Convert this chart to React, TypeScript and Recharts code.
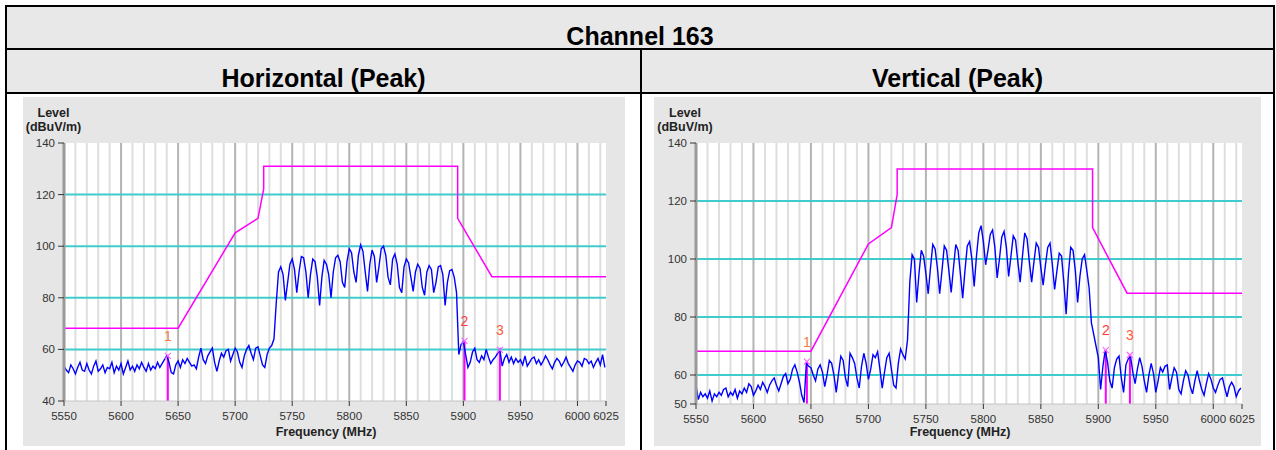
import React from "react";
import {
  LineChart,
  Line,
  XAxis,
  YAxis,
  CartesianGrid,
  ReferenceLine,
  ReferenceDot,
} from "recharts";

const FONT = "'Liberation Sans', Arial, Helvetica, sans-serif";

// sweep: one reading every 2 MHz from 5550 MHz
const START_MHZ = 5550;
const STEP_MHZ = 2;

const FREQ_TICKS = [5550, 5600, 5650, 5700, 5750, 5800, 5850, 5900, 5950, 6000, 6025];
const H_LEVEL_TICKS = [40, 60, 80, 100, 120, 140];
const V_LEVEL_TICKS = [50, 60, 80, 100, 120, 140];
const CYAN_LEVELS = [60, 80, 100, 120];
const GRID_MHZ = Array.from({ length: 47 }, (_, i) => 5560 + i * 10);

// emission mask
const LIMIT_MHZ = [5550, 5650, 5700, 5720, 5725, 5725, 5895, 5895, 5925, 6025];
const LIMIT_LEVEL = [68.2, 68.2, 105.2, 110.8, 122.2, 131, 131, 110.8, 88.2, 88.2];

const H_MARKER_MHZ = [5641, 5901, 5932];
const H_MARKER_LEVEL = [57.5, 63.3, 59.8];
const V_MARKER_MHZ = [5646.5, 5906.5, 5927.5];
const V_MARKER_LEVEL = [64.6, 68.6, 66.9];
const MARKER_COLORS = ["#f0803c", "#ff3c3c", "#ff5a3c"];

// Horizontal (Peak) trace, dBuV/m
const H_LEVEL = [
  53.5, 52.0, 51.0, 54.0, 52.5, 50.5, 53.0, 55.0, 52.0, 51.5,
  54.5, 52.0, 50.5, 53.5, 55.5, 51.5, 52.5, 54.0, 51.0, 53.0,
  52.5, 55.0, 51.0, 53.5, 52.0, 54.5, 50.5, 53.0, 55.5, 52.0,
  53.5, 51.5, 54.0, 52.5, 55.0, 53.0, 51.5, 54.5, 52.0, 53.5,
  52.5, 55.0, 53.0, 54.5, 56.0, 57.5, 55.0, 51.0, 50.5, 54.0,
  55.5, 53.0, 56.0, 54.5, 56.5, 55.0, 53.5, 54.0, 52.5, 57.0,
  60.5, 56.0, 54.5, 57.5, 59.0, 60.5, 55.0, 51.5, 55.5, 58.5,
  57.0, 59.5, 60.0, 55.5, 58.0, 60.5, 59.0, 55.0, 53.0, 57.5,
  60.0, 61.5, 58.5, 56.0, 60.5, 61.0, 57.5, 54.0, 53.0, 58.0,
  60.5, 61.5, 64.0, 78.0, 90.0, 92.0, 89.0, 79.0, 86.0, 93.0,
  95.0, 91.0, 82.0, 90.0, 96.0, 95.5, 90.0, 80.0, 89.0, 95.0,
  94.0, 88.0, 77.0, 88.0, 94.5, 93.0, 89.0, 80.0, 90.0, 95.5,
  96.5, 94.0, 86.0, 84.0, 94.0, 99.0, 97.5, 90.0, 86.0, 96.5,
  100.5, 98.0, 90.0, 82.5, 93.0, 98.5, 96.0, 86.0, 92.0, 99.0,
  100.0, 96.5, 88.0, 85.0, 95.0, 97.0, 93.0, 84.0, 82.0, 92.0,
  95.0, 93.5, 88.0, 82.5, 90.0, 93.0, 91.5, 84.0, 81.0, 90.0,
  92.5, 91.0, 82.0, 86.0, 92.0, 92.5, 89.0, 77.0, 86.0, 90.5,
  91.0, 88.0, 82.0, 58.0, 62.0, 63.0, 58.0, 53.0, 55.0, 59.0,
  60.5, 56.0, 55.0, 57.5, 56.0, 60.0, 57.0, 54.5, 56.0, 57.0,
  58.5, 60.0, 53.5, 56.5, 58.0, 55.0, 57.0, 54.5, 56.5, 55.0,
  56.0, 54.0, 57.5, 53.5, 55.0, 56.5, 57.0, 54.5, 56.0, 54.0,
  55.5, 57.5, 56.0, 54.0, 52.5, 55.0, 56.5, 55.5, 53.5, 55.0,
  57.0, 54.5, 53.0, 51.5, 54.0, 55.5, 55.0, 53.5, 56.5, 56.0,
  54.5, 55.5, 53.0, 55.0, 56.5, 54.0, 58.0, 53.0,
];

// Vertical (Peak) trace, dBuV/m
const V_LEVEL = [
  56.5, 51.5, 54.0, 52.5, 53.5, 52.0, 54.5, 51.0, 53.5, 52.5,
  54.0, 53.0, 55.0, 55.5, 52.5, 54.0, 53.0, 55.0, 52.0, 54.5,
  53.5, 55.5, 54.0, 57.0, 56.0, 53.0, 54.5, 56.5, 55.0, 57.5,
  56.0, 54.0, 56.5, 58.0, 59.0, 56.5, 54.5, 57.0, 59.5, 60.5,
  57.0, 58.5, 62.0, 63.5, 61.0, 57.5, 53.0, 50.5, 64.0, 63.0,
  62.5, 60.0, 58.0, 62.0, 63.5, 61.0, 56.0, 60.0, 65.0, 64.0,
  60.0, 54.0, 60.5, 66.5, 65.0, 59.0, 56.0, 67.5, 66.0, 64.0,
  59.0, 55.5, 63.0, 67.5, 64.0, 58.5, 62.0, 67.0, 66.0, 68.0,
  62.0, 55.5, 61.0, 66.0, 67.5, 62.0, 56.5, 55.5, 64.0, 69.0,
  67.0, 65.5, 72.0, 92.0, 101.5, 100.0, 85.0, 95.0, 103.0, 101.0,
  95.0, 88.0, 97.0, 105.0, 103.5, 97.0, 88.0, 96.0, 104.5, 103.0,
  96.0, 88.5, 97.0, 105.0, 103.0, 95.0, 86.5, 96.0, 104.5, 106.0,
  100.0, 90.5, 101.0, 109.0, 111.5, 106.0, 98.0, 103.0, 108.5, 110.0,
  104.0, 93.5, 100.0, 107.5, 109.5, 104.0, 94.0, 101.0, 108.0, 106.5,
  99.0, 92.0, 101.0, 109.0, 107.0, 99.0, 92.0, 99.0, 105.5, 104.0,
  97.0, 91.0, 98.0, 104.0, 105.5, 98.0, 89.5, 96.0, 102.0, 101.0,
  92.0, 81.0, 95.0, 104.0, 103.0, 96.0, 85.0, 94.0, 100.0, 101.5,
  96.0, 90.0, 78.0, 74.0, 70.0, 66.0, 55.0, 63.0, 68.5, 64.5,
  58.0, 55.5, 62.5, 65.5, 66.5, 59.0, 54.0, 63.5, 65.5, 66.5,
  61.0, 57.0, 62.0, 66.0, 63.0, 58.0, 54.0, 60.0, 64.0, 60.5,
  54.0, 58.0, 62.5, 61.0, 63.0, 63.5, 55.0, 59.0, 62.5, 61.0,
  55.0, 53.5, 58.0, 61.5, 60.0, 56.0, 53.5, 58.0, 61.5, 58.0,
  55.0, 53.0, 57.0, 60.5, 58.5, 55.5, 54.0, 56.5, 58.5, 59.0,
  55.5, 52.5, 56.0, 57.5, 56.0, 52.5, 54.5, 55.5,
];

const tickStyle = { fontSize: 11.5, fill: "#333", fontFamily: FONT };

function Panel({ left, width, yAxisWidth, bottom, levels, levelTicks, markerMhz, markerLevel, freqLabelX, levelLabelX }: any) {
  const trace = levels.map((v: number, i: number) => ({ f: START_MHZ + i * STEP_MHZ, v }));
  const limit = LIMIT_MHZ.map((f, i) => ({ f, v: LIMIT_LEVEL[i] }));
  const yMin = levelTicks[0];
  const yMax = levelTicks[levelTicks.length - 1];

  return (
    <div style={{ position: "absolute", left, top: 97, width, height: 349, background: "#e6e6e6" }}>
      <LineChart width={width} height={349} margin={{ top: 46, right: 19, bottom, left: 0 }}>
        <CartesianGrid horizontal={false} vertical={false} fill="#ffffff" />
        {GRID_MHZ.map((f) => (
          <ReferenceLine key={`g${f}`} x={f} stroke={f % 50 === 0 ? "#b4b4b4" : "#dedede"} strokeWidth={2} />
        ))}
        {CYAN_LEVELS.map((v) => (
          <ReferenceLine key={`c${v}`} y={v} stroke="#40cccc" strokeWidth={2} />
        ))}
        <XAxis
          type="number"
          dataKey="f"
          domain={[5550, 6025]}
          ticks={FREQ_TICKS}
          interval={0}
          allowDataOverflow
          height={30}
          tick={tickStyle}
          tickSize={5}
          tickMargin={6}
          tickLine={{ stroke: "#333" }}
          axisLine={{ stroke: "#c4c4c4" }}
        />
        <YAxis
          type="number"
          domain={[yMin, yMax]}
          ticks={levelTicks}
          interval={0}
          allowDataOverflow
          width={yAxisWidth}
          tick={tickStyle}
          tickSize={6}
          tickMargin={3}
          tickLine={{ stroke: "#333" }}
          axisLine={{ stroke: "#9a9a9a", strokeWidth: 3 }}
        />
        <Line
          data={limit}
          dataKey="v"
          type="linear"
          stroke="#ff00ff"
          strokeWidth={1.5}
          dot={false}
          isAnimationActive={false}
        />
        {markerMhz.map((f: number, i: number) => (
          <ReferenceLine
            key={`m${i}`}
            segment={[{ x: f, y: yMin }, { x: f, y: markerLevel[i] }]}
            stroke="#ff00ff"
            strokeWidth={2}
          />
        ))}
        <Line
          data={trace}
          dataKey="v"
          type="linear"
          stroke="#0000ff"
          strokeWidth={1.4}
          dot={false}
          isAnimationActive={false}
        />
        {markerMhz.map((f: number, i: number) => (
          <ReferenceDot
            key={`d${i}`}
            x={f}
            y={markerLevel[i]}
            shape={(p: any) => (
              <g>
                <path
                  d={`M${p.cx - 3},${p.cy - 3}L${p.cx + 3},${p.cy + 3}M${p.cx - 3},${p.cy + 3}L${p.cx + 3},${p.cy - 3}`}
                  stroke="#ff66ff"
                  strokeWidth={1.2}
                />
                <text
                  x={p.cx}
                  y={p.cy - 15}
                  textAnchor="middle"
                  fill={MARKER_COLORS[i]}
                  fontSize={14}
                  fontFamily={FONT}
                >
                  {i + 1}
                </text>
              </g>
            )}
          />
        ))}
      </LineChart>
      <div
        style={{
          position: "absolute",
          left: levelLabelX - 40,
          top: 9,
          width: 80,
          textAlign: "center",
          fontFamily: FONT,
          fontWeight: "bold",
          fontSize: 12.5,
          lineHeight: "14px",
          color: "#222",
        }}
      >
        Level
        <br />
        (dBuV/m)
      </div>
      <div
        style={{
          position: "absolute",
          left: freqLabelX - 80,
          top: 328,
          width: 160,
          textAlign: "center",
          fontFamily: FONT,
          fontWeight: "bold",
          fontSize: 12.5,
          lineHeight: "14px",
          color: "#222",
        }}
      >
        Frequency (MHz)
      </div>
    </div>
  );
}

const headText = {
  position: "absolute" as const,
  fontFamily: FONT,
  fontWeight: "bold" as const,
  fontSize: 25,
  lineHeight: "25px",
  textAlign: "center" as const,
  color: "#000",
};

export default function App() {
  return (
    <div style={{ position: "absolute", left: 0, top: 0, width: 1276, height: 450, background: "#fff", overflow: "hidden" }}>
      <div style={{ position: "absolute", left: 5, top: 5, width: 1270, height: 89, background: "#e8e8e8" }} />
      <div style={{ ...headText, left: 5, top: 24, width: 1270 }}>Channel 163</div>
      <div style={{ ...headText, left: 7, top: 66, width: 633 }}>Horizontal (Peak)</div>
      <div style={{ ...headText, left: 642, top: 66, width: 631 }}>Vertical (Peak)</div>

      <Panel
        left={23}
        width={602}
        yAxisWidth={41}
        bottom={15}
        levels={H_LEVEL}
        levelTicks={H_LEVEL_TICKS}
        markerMhz={H_MARKER_MHZ}
        markerLevel={H_MARKER_LEVEL}
        levelLabelX={30.5}
        freqLabelX={303}
      />
      <Panel
        left={654}
        width={607}
        yAxisWidth={42}
        bottom={12}
        levels={V_LEVEL}
        levelTicks={V_LEVEL_TICKS}
        markerMhz={V_MARKER_MHZ}
        markerLevel={V_MARKER_LEVEL}
        levelLabelX={31}
        freqLabelX={306}
      />

      {/* table rules */}
      <div style={{ position: "absolute", left: 5, top: 5, width: 1270, height: 2, background: "#000" }} />
      <div style={{ position: "absolute", left: 5, top: 48, width: 1270, height: 2, background: "#000" }} />
      <div style={{ position: "absolute", left: 5, top: 92, width: 1270, height: 2, background: "#000" }} />
      <div style={{ position: "absolute", left: 5, top: 5, width: 2, height: 445, background: "#000" }} />
      <div style={{ position: "absolute", left: 1273, top: 5, width: 2, height: 445, background: "#000" }} />
      <div style={{ position: "absolute", left: 640, top: 48, width: 2, height: 402, background: "#000" }} />
    </div>
  );
}
